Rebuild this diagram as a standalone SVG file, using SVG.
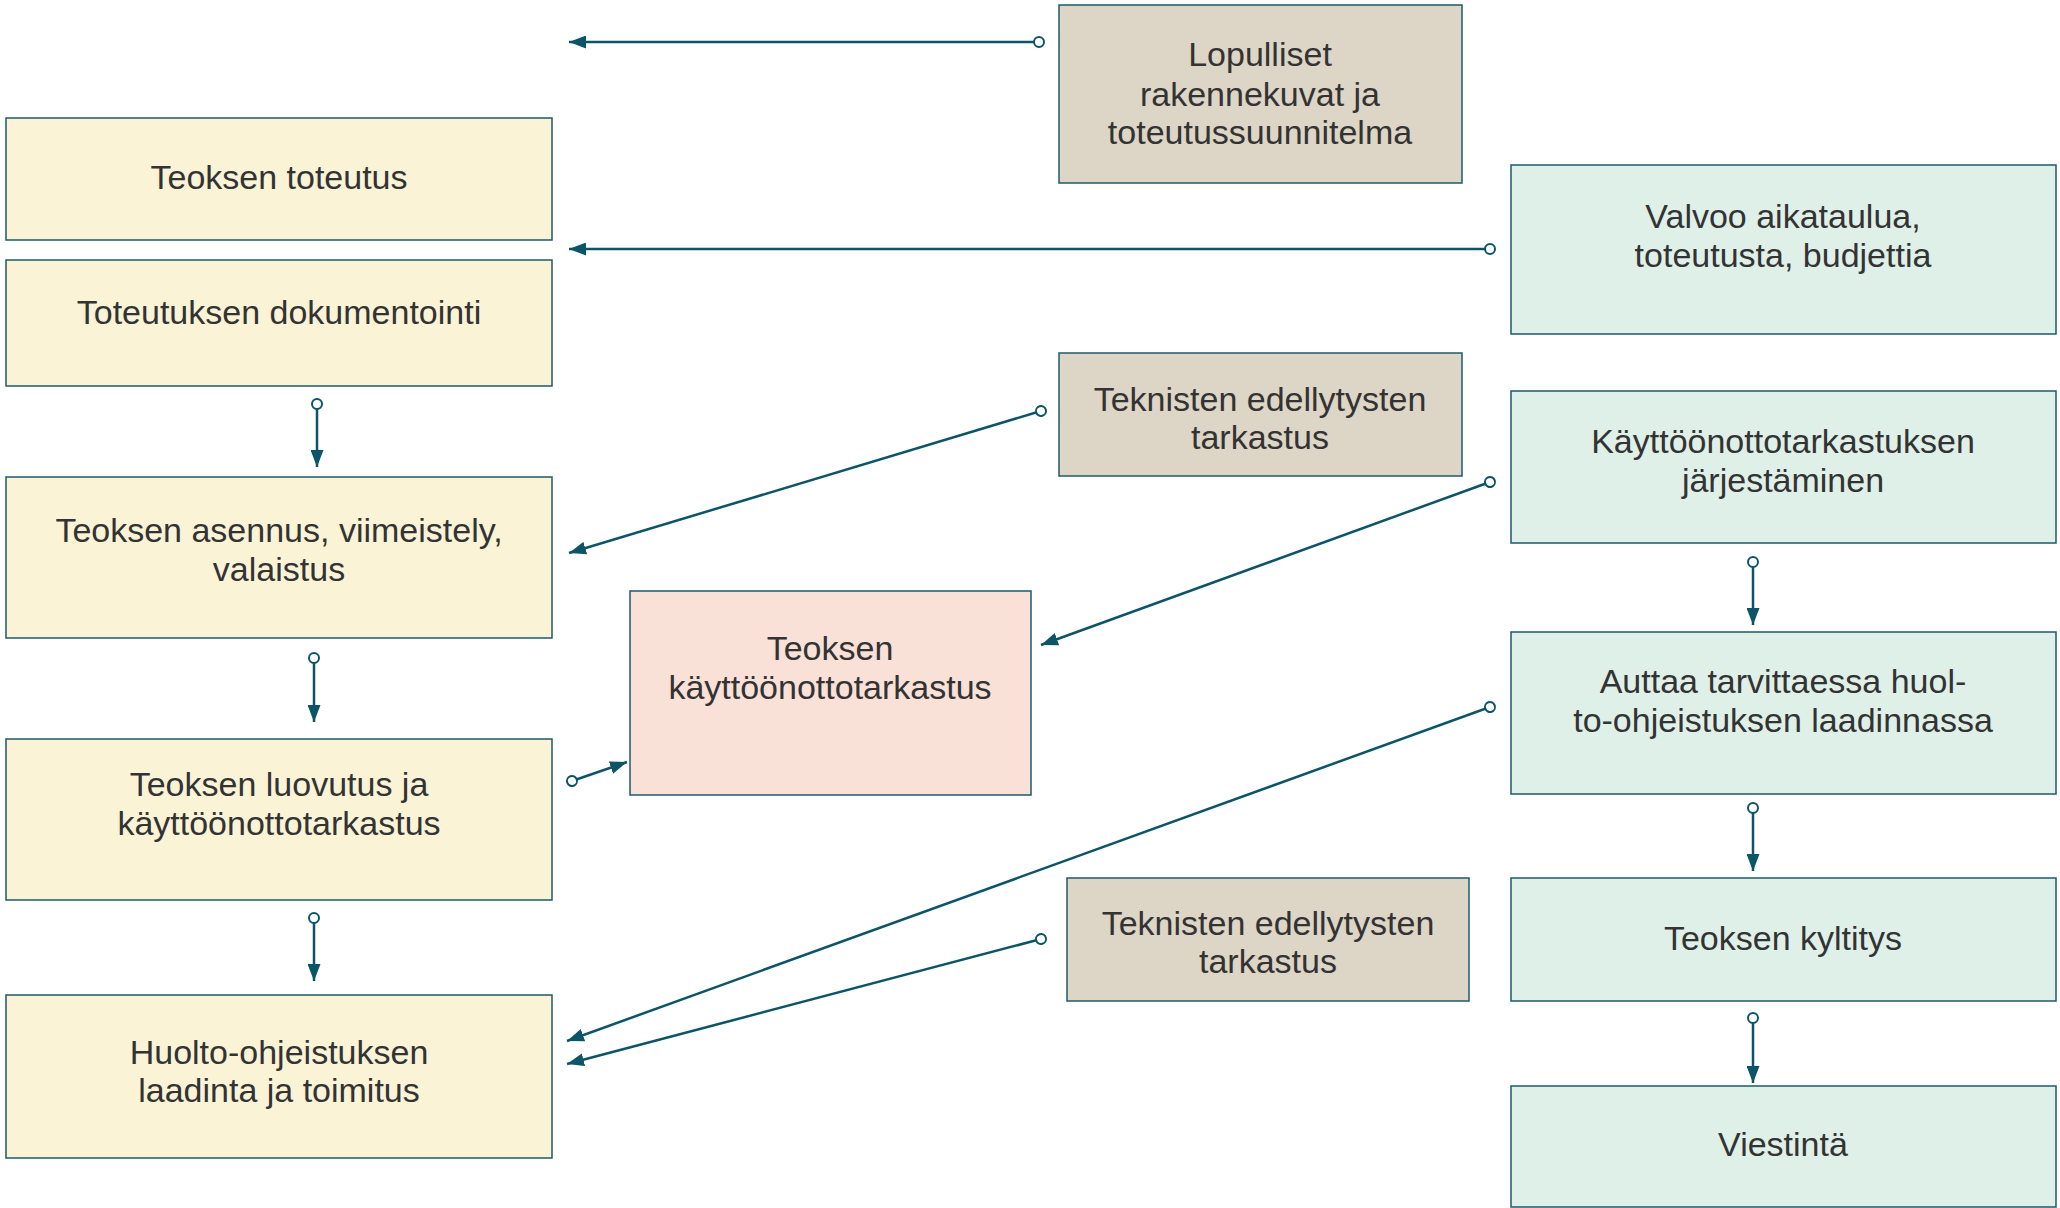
<svg xmlns="http://www.w3.org/2000/svg" width="2060" height="1208" viewBox="0 0 2060 1208">
<defs>
<style>
.box{stroke:#1d5a69;stroke-width:1.5}
.y{fill:#fbf3d6}
.t{fill:#ddd5c5}
.m{fill:#dff0e8}
.p{fill:#fae1d7}
text{font-family:"Liberation Sans",Arial,sans-serif;font-size:34px;fill:#333333;text-anchor:middle}
.c{fill:none;stroke:#0c5467;stroke-width:2.5;marker-start:url(#dot);marker-end:url(#arr)}
</style>
<marker id="arr" markerUnits="userSpaceOnUse" markerWidth="18" markerHeight="13" refX="17" refY="6.5" orient="auto" viewBox="0 0 18 13">
<path d="M0,0 L17,6.5 L0,13 z" fill="#0c5467"/>
</marker>
<marker id="dot" markerUnits="userSpaceOnUse" markerWidth="14" markerHeight="14" refX="7" refY="7" orient="auto" viewBox="0 0 14 14">
<circle cx="7" cy="7" r="5" fill="#fff" stroke="#0c5467" stroke-width="2"/>
</marker>
</defs>
<rect width="2060" height="1208" fill="#fff"/>
<g id="connectors">
<path class="c" d="M1039,42 L569,42"/>
<path class="c" d="M1490,249 L569,249"/>
<path class="c" d="M317,404 L317,467"/>
<path class="c" d="M314,658 L314,722"/>
<path class="c" d="M314,918 L314,981"/>
<path class="c" d="M1041,411 L569,553"/>
<path class="c" d="M1490,482 L1041,645"/>
<path class="c" d="M572,781 L627,762"/>
<path class="c" d="M1490,707 L567,1041"/>
<path class="c" d="M1041,939 L567,1064"/>
<path class="c" d="M1753,562 L1753,625"/>
<path class="c" d="M1753,808 L1753,871"/>
<path class="c" d="M1753,1018 L1753,1083"/>
</g>
<g id="n1"><rect class="box y" x="6" y="118" width="546" height="122"/><text x="279" y="189">Teoksen toteutus</text></g>
<g id="n2"><rect class="box y" x="6" y="260" width="546" height="126"/><text x="279" y="324">Toteutuksen dokumentointi</text></g>
<g id="n3"><rect class="box y" x="6" y="477" width="546" height="161"/><text x="279" y="542">Teoksen asennus, viimeistely,</text><text x="279" y="581">valaistus</text></g>
<g id="n4"><rect class="box y" x="6" y="739" width="546" height="161"/><text x="279" y="796">Teoksen luovutus ja</text><text x="279" y="835">käyttöönottotarkastus</text></g>
<g id="n5"><rect class="box y" x="6" y="995" width="546" height="163"/><text x="279" y="1064">Huolto-ohjeistuksen</text><text x="279" y="1102">laadinta ja toimitus</text></g>
<g id="n6"><rect class="box p" x="630" y="591" width="401" height="204"/><text x="830" y="660">Teoksen</text><text x="830" y="699">käyttöönottotarkastus</text></g>
<g id="n7"><rect class="box t" x="1059" y="5" width="403" height="178"/><text x="1260" y="66">Lopulliset</text><text x="1260" y="106">rakennekuvat ja</text><text x="1260" y="144">toteutussuunnitelma</text></g>
<g id="n8"><rect class="box t" x="1059" y="353" width="403" height="123"/><text x="1260" y="411">Teknisten edellytysten</text><text x="1260" y="449">tarkastus</text></g>
<g id="n9"><rect class="box t" x="1067" y="878" width="402" height="123"/><text x="1268" y="935">Teknisten edellytysten</text><text x="1268" y="973">tarkastus</text></g>
<g id="n10"><rect class="box m" x="1511" y="165" width="545" height="169"/><text x="1783" y="228">Valvoo aikataulua,</text><text x="1783" y="267">toteutusta, budjettia</text></g>
<g id="n11"><rect class="box m" x="1511" y="391" width="545" height="152"/><text x="1783" y="453">Käyttöönottotarkastuksen</text><text x="1783" y="492">järjestäminen</text></g>
<g id="n12"><rect class="box m" x="1511" y="632" width="545" height="162"/><text x="1783" y="693">Auttaa tarvittaessa huol-</text><text x="1783" y="732">to-ohjeistuksen laadinnassa</text></g>
<g id="n13"><rect class="box m" x="1511" y="878" width="545" height="123"/><text x="1783" y="950">Teoksen kyltitys</text></g>
<g id="n14"><rect class="box m" x="1511" y="1086" width="545" height="121"/><text x="1783" y="1156">Viestintä</text></g>
</svg>
